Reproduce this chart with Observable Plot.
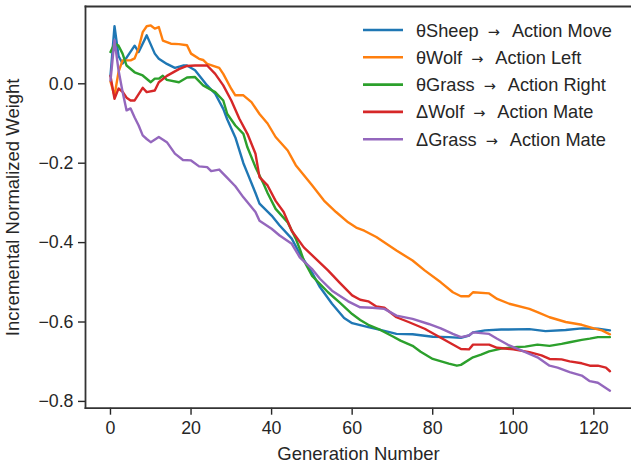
<!DOCTYPE html>
<html>
<head>
<meta charset="utf-8">
<script src="https://cdn.jsdelivr.net/npm/d3@7"></script>
<script src="https://cdn.jsdelivr.net/npm/@observablehq/plot@0.6"></script>
<style>
  html, body { margin: 0; padding: 0; background: #fff; }
  #chart { width: 631px; height: 466px; }
</style>
</head>
<body>
<div id="chart"></div>
<script>
// ---- data ----
const seriesSources = ["θSheep", "θWolf", "θGrass", "ΔWolf", "ΔGrass"];
const seriesTargets = ["Action Move", "Action Left", "Action Right", "Action Mate", "Action Mate"];
const seriesNames = seriesSources.map((s, i) => s + " → " + seriesTargets[i]);
const seriesColors = ["#1f77b4", "#ff7f0e", "#2ca02c", "#d62728", "#9467bd"];

const sheepGen = [0,1,2,3,6,7,9,11,12,14,16,18,19,21,24,26,28,29,31,33,34,36,37,40,42,45,47,50,52,55,58,60,62,64,67,71,75,80,84,87,89,90,93,97,104,108,113,117,121,124];
const sheepVal = [0.02,0.145,0.07,0.051,0.096,0.080,0.122,0.076,0.063,0.05,0.04,0.046,0.046,0.034,-0.004,-0.025,-0.063,-0.09,-0.135,-0.2,-0.225,-0.275,-0.302,-0.332,-0.357,-0.39,-0.428,-0.475,-0.512,-0.554,-0.59,-0.603,-0.608,-0.613,-0.62,-0.63,-0.631,-0.637,-0.638,-0.640,-0.634,-0.626,-0.621,-0.619,-0.618,-0.623,-0.62,-0.616,-0.617,-0.621];

const wolfGen = [0,1,2,3,5,6,7,8,9,10,11,12,13,15,17,19,20,22,23,24,27,28,30,31,33,35,37,39,41,44,46,50,53,56,59,61,63,66,71,75,78,82,85,87,89,90,94,96,99,104,106,109,113,117,120,122,124];
const wolfVal = [0.006,-0.03,0.03,0.059,0.059,0.064,0.09,0.13,0.145,0.147,0.139,0.143,0.109,0.101,0.1,0.097,0.076,0.063,0.06,0.05,0.04,0.025,-0.013,-0.029,-0.029,-0.046,-0.076,-0.1,-0.134,-0.168,-0.205,-0.255,-0.294,-0.323,-0.349,-0.362,-0.37,-0.386,-0.42,-0.445,-0.47,-0.5,-0.525,-0.535,-0.535,-0.525,-0.528,-0.542,-0.554,-0.567,-0.575,-0.588,-0.6,-0.607,-0.616,-0.621,-0.631];

const grassGen = [0,1,2,3,4,6,8,10,11,12,13,14,17,19,21,23,26,28,29,31,33,34,36,38,39,41,44,46,47,48,50,54,57,60,62,64,67,70,72,75,77,80,84,86,87,90,92,94,97,101,103,106,109,112,114,117,119,121,124];
const grassVal = [0.08,0.101,0.096,0.076,0.046,0.029,0.021,0.004,0.013,0.013,0.02,0.01,0.004,0.016,0.017,-0.004,-0.021,-0.042,-0.076,-0.105,-0.126,-0.16,-0.21,-0.252,-0.275,-0.315,-0.349,-0.39,-0.416,-0.445,-0.483,-0.525,-0.552,-0.58,-0.595,-0.607,-0.62,-0.636,-0.647,-0.66,-0.675,-0.693,-0.705,-0.71,-0.708,-0.689,-0.682,-0.674,-0.667,-0.663,-0.662,-0.657,-0.66,-0.655,-0.651,-0.645,-0.642,-0.638,-0.638];

const dWolfGen = [0,1,2,3,4,5,6,8,9,11,12,14,17,19,21,24,26,28,30,32,34,36,37,39,41,43,45,48,51,54,57,60,62,64,66,68,71,74,78,81,84,87,89,90,94,96,100,104,107,109,112,114,117,119,121,123,124];
const dWolfVal = [0.02,-0.038,-0.012,-0.02,-0.035,-0.042,-0.042,-0.01,-0.021,-0.017,0.004,0.02,0.037,0.045,0.046,0.046,0.025,-0.004,-0.042,-0.088,-0.126,-0.176,-0.235,-0.256,-0.295,-0.323,-0.37,-0.412,-0.441,-0.47,-0.502,-0.533,-0.544,-0.548,-0.561,-0.564,-0.588,-0.6,-0.617,-0.634,-0.651,-0.668,-0.669,-0.657,-0.657,-0.665,-0.669,-0.676,-0.684,-0.693,-0.694,-0.699,-0.704,-0.71,-0.71,-0.715,-0.724];

const dGrassGen = [0,1,2,3,4,5,6,7,8,9,10,12,14,16,18,20,22,24,25,27,29,31,33,36,37,40,42,45,47,50,52,55,59,62,65,68,71,75,79,82,85,87,89,90,94,96,99,103,106,109,111,114,117,119,121,124];
const dGrassVal = [0.008,0.11,0.034,-0.02,-0.067,-0.062,-0.085,-0.105,-0.13,-0.139,-0.147,-0.134,-0.147,-0.176,-0.192,-0.193,-0.208,-0.21,-0.22,-0.216,-0.237,-0.258,-0.286,-0.323,-0.345,-0.365,-0.382,-0.403,-0.437,-0.466,-0.491,-0.521,-0.548,-0.563,-0.564,-0.567,-0.584,-0.592,-0.605,-0.616,-0.63,-0.638,-0.634,-0.626,-0.63,-0.642,-0.659,-0.676,-0.689,-0.71,-0.715,-0.726,-0.735,-0.749,-0.753,-0.773];

const xTicks = [0, 20, 40, 60, 80, 100, 120];
const yTicks = [-0.8, -0.6, -0.4, -0.2, 0.0];
const xLabel = "Generation Number";
const yLabel = "Incremental Normalized Weight";

// ---- build table ----
const gens = [sheepGen, wolfGen, grassGen, dWolfGen, dGrassGen];
const vals = [sheepVal, wolfVal, grassVal, dWolfVal, dGrassVal];
const rows = seriesNames.flatMap((name, i) =>
  gens[i].map((g, j) => ({series: name, gen: g, value: vals[i][j]}))
);

const FONT = "'Liberation Sans', Arial, sans-serif";
const INK = "#262626";

function legendMark() {
  const g = d3.create("svg:g");
  seriesNames.forEach((name, i) => {
    const y = 30 + i * 27.3;
    g.append("line")
      .attr("x1", 363).attr("x2", 403)
      .attr("y1", y).attr("y2", y)
      .attr("stroke", seriesColors[i])
      .attr("stroke-width", 2.6);
    const t = g.append("text")
      .attr("x", 416).attr("y", y)
      .attr("dy", "0.36em")
      .attr("text-anchor", "start")
      .attr("fill", INK)
      .attr("font-size", 18.2)
      .attr("font-family", FONT);
    t.append("tspan").text(seriesSources[i]);
    t.append("tspan").attr("dx", 9).attr("font-family", "'DejaVu Sans'").attr("font-size", 14.5).text("→");
    t.append("tspan").attr("dx", 12).text(seriesTargets[i]);
  });
  return g.node();
}

const chart = Plot.plot({
  width: 631,
  height: 466,
  marginLeft: 85,
  marginTop: 6,
  marginBottom: 58.3,
  marginRight: 0,
  style: {fontFamily: FONT, color: INK, background: "#fff"},
  x: {domain: [-6.2, 129.35]},
  y: {domain: [-0.8171, 0.1947]},
  color: {domain: seriesNames, range: seriesColors},
  marks: [
    Plot.axisX({ticks: xTicks, tickSize: 7, tickPadding: 6, fontSize: 17.8, label: null, strokeWidth: 1.4}),
    Plot.axisY({ticks: yTicks, tickFormat: ".1f", tickSize: 7, tickPadding: 5, fontSize: 17.8, label: null, strokeWidth: 1.4}),
    Plot.line(rows, {x: "gen", y: "value", z: "series", stroke: "series", strokeWidth: 2.4, strokeLinejoin: "round", strokeLinecap: "round"}),
    Plot.frame({anchor: "left", stroke: "#333", strokeWidth: 1.8}),
    Plot.frame({anchor: "top", stroke: "#333", strokeWidth: 1.8}),
    Plot.frame({anchor: "bottom", stroke: "#333", strokeWidth: 1.8}),
    Plot.text([xLabel], {frameAnchor: "bottom", dy: 51.5, text: d => d, fontSize: 18.5, fill: INK}),
    Plot.text([yLabel], {frameAnchor: "left", textAnchor: "middle", lineAnchor: "middle", dx: -72.5, rotate: -90, text: d => d, fontSize: 18.5, fill: INK}),
    legendMark
  ]
});
document.getElementById("chart").appendChild(chart);
</script>
</body>
</html>
